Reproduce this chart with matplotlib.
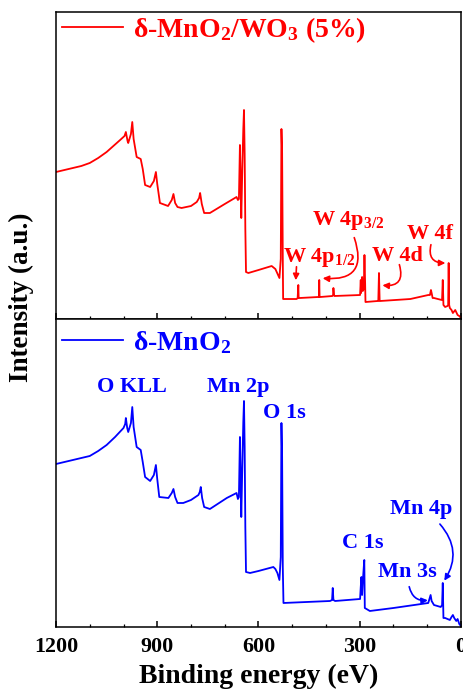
import matplotlib
matplotlib.use("Agg")
import matplotlib.pyplot as plt
from matplotlib.ticker import MultipleLocator

plt.rcParams["font.family"] = ["Liberation Serif", "DejaVu Serif"]
plt.rcParams["font.weight"] = "bold"
plt.rcParams["mathtext.fontset"] = "custom"
plt.rcParams["mathtext.rm"] = "Liberation Serif:bold"
plt.rcParams["mathtext.it"] = "Liberation Serif:bold"
plt.rcParams["mathtext.bf"] = "Liberation Serif:bold"
plt.rcParams["mathtext.default"] = "rm"

# survey spectrum of the WO3-loaded sample (binding energy in eV, intensity in a.u.)
be_mw = [1200, 1175, 1150, 1125, 1100, 1075, 1050, 1030, 1010, 997, 993, 988,
         986, 978, 974, 970, 961, 949, 943, 936, 921, 910, 904, 900, 892, 868,
         857, 852, 847, 840, 828, 800, 783, 776, 773, 768, 761, 744, 700, 665,
         661, 658, 655, 653, 651, 648, 645, 643, 641, 639, 637, 630, 600, 561,
         550, 546, 538, 534, 532, 530, 528, 527, 487, 484, 482, 481, 478, 423,
         421, 420, 419, 417, 381, 379, 378, 376, 375, 299, 297, 296, 293, 291,
         288, 286, 284, 283, 247, 245, 243, 241, 240, 150, 97, 92, 89, 87, 84,
         80, 57, 56, 54, 52, 47, 40, 38, 36.5, 35, 33, 28, 24, 17, 10, 5, 0]
int_mw = [147, 149, 151, 153, 156, 161, 167, 173, 179, 183, 187, 178,
          176, 185, 197, 180, 162, 160, 150, 134, 132, 138, 147, 135, 116, 113,
          119, 125, 116, 112, 111, 113, 117, 121, 126, 115, 106, 106, 115, 122,
          119, 120, 174, 140, 101, 150, 190, 209, 165, 90, 47, 46, 49, 53,
          50, 47, 41, 60, 190, 166, 60, 20, 20, 21, 34, 21, 21, 22,
          22, 39, 22, 22, 23, 24, 31, 24, 23, 24, 39, 26, 42, 28,
          30, 64, 35, 17, 18, 18, 46, 18, 18, 20, 24, 24, 29, 26, 21,
          21, 19, 20, 39, 14, 12, 13, 14, 56, 14, 11, 9, 6, 9, 4, 3, 1]

# survey spectrum of pristine delta-MnO2
be_m = [1200, 1175, 1150, 1125, 1100, 1075, 1050, 1025, 1000, 995, 993, 989,
        986, 978, 974, 970, 961, 949, 943, 936, 921, 910, 904, 900, 894, 867,
        857, 852, 847, 840, 823, 800, 778, 774, 771, 767, 761, 744, 694, 665,
        661, 658, 655, 653, 651, 648, 645, 643, 641, 639, 637, 625, 600, 556,
        550, 544, 538, 534, 532, 530, 528, 526, 388, 382, 380, 378, 373, 299,
        297, 295, 293, 291, 288, 286.5, 285, 270, 200, 97, 90, 87, 80, 60, 56,
        54, 52, 47, 40, 33, 28, 24, 20, 14, 10, 5, 0]
int_m = [163, 165, 167, 169, 171, 176, 182, 190, 199, 203, 209, 199,
         195, 204, 220, 200, 180, 177, 165, 150, 146, 152, 162, 148, 130, 129,
         134, 138, 130, 124, 124, 127, 132, 135, 140, 129, 120, 118, 129, 134,
         128, 130, 190, 150, 110, 160, 205, 226, 180, 100, 55, 54, 56, 60,
         58, 54, 47, 70, 204, 170, 60, 24, 26, 27, 39, 27, 26, 28,
         40, 50, 32, 45, 60, 67, 19, 16, 19, 24, 32, 26, 22, 20, 22,
         44, 9, 9, 8, 7, 10, 12, 9, 6, 8, 3, 1]

red = "#ff0000"
blue = "#0000ff"

fig = plt.figure(figsize=(4.64, 6.89), dpi=100)
ax_top = fig.add_axes([0.1207, 0.5370, 0.8728, 0.4456])
ax_bot = fig.add_axes([0.1207, 0.0900, 0.8728, 0.4470], sharex=ax_top)

ax_top.plot(be_mw, int_mw, color=red, lw=1.3, label=r"δ-MnO$_2$/WO$_3$ (5%)")
ax_bot.plot(be_m, int_m, color=blue, lw=1.3, label=r"δ-MnO$_2$")

ax_top.set_ylim(0, 307)
ax_bot.set_ylim(0, 308)
ax_bot.set_xlim(1200, 0)

for ax, ly in ((ax_top, 0.99), (ax_bot, 0.967)):
    for sp in ax.spines.values():
        sp.set_linewidth(1.1)
    ax.set_yticks([])
    ax.xaxis.set_major_locator(MultipleLocator(300))
    ax.xaxis.set_minor_locator(MultipleLocator(100))
    ax.tick_params(axis="x", which="major", direction="in", length=4.5,
                   width=1.1, top=False, labelsize=15.8, pad=7)
    ax.tick_params(axis="x", which="minor", direction="in", length=2.5,
                   width=0.9, top=False)
    ax.legend(loc="upper left", frameon=False, fontsize=20,
              handlelength=2.2, handletextpad=0.36, borderpad=0.0,
              borderaxespad=0.0, bbox_to_anchor=(0.015, ly),
              labelcolor="linecolor")
ax_top.tick_params(axis="x", labelbottom=False)

ax_bot.set_xlabel("Binding energy (eV)", fontsize=20, fontweight="bold",
                  labelpad=5)
fig.text(0.047, 0.569, "Intensity (a.u.)", rotation=90, fontsize=19.5,
         fontweight="bold", ha="center", va="center")

# peak labels, WO3-loaded sample
lab = dict(fontsize=16, fontweight="bold", ha="left", va="baseline")
ax_top.text(442, 94, r"W 4p$_{3/2}$", color=red, **lab)
ax_top.text(527, 57, r"W 4p$_{1/2}$", color=red, **lab)
ax_top.text(265, 58, "W 4d", color=red, **lab)
ax_top.text(161, 80, "W 4f", color=red, **lab)

arr = dict(arrowstyle="-|>", lw=1.2, mutation_scale=9)
ax_top.annotate("", xy=(490, 36), xytext=(487, 55),
                arrowprops=dict(color=red, **arr))
ax_top.annotate("", xy=(418, 41), xytext=(319, 84),
                arrowprops=dict(color=red, connectionstyle="arc3,rad=-0.8", **arr))
ax_top.annotate("", xy=(241, 34), xytext=(185, 57),
                arrowprops=dict(color=red, connectionstyle="arc3,rad=-0.8", **arr))
ax_top.annotate("", xy=(38, 56), xytext=(87, 77),
                arrowprops=dict(color=red, connectionstyle="arc3,rad=0.7", **arr))

# peak labels, pristine sample
ax_bot.text(1079, 235, "O KLL", color=blue, **lab)
ax_bot.text(753, 235, "Mn 2p", color=blue, **lab)
ax_bot.text(586, 209, "O 1s", color=blue, **lab)
ax_bot.text(353, 79, "C 1s", color=blue, **lab)
ax_bot.text(245, 50, "Mn 3s", color=blue, **lab)
ax_bot.text(210, 113, "Mn 4p", color=blue, **lab)

ax_bot.annotate("", xy=(90, 27), xytext=(155, 43),
                arrowprops=dict(color=blue, connectionstyle="arc3,rad=0.5", **arr))
ax_bot.annotate("", xy=(54, 44), xytext=(68, 105),
                arrowprops=dict(color=blue, connectionstyle="arc3,rad=-0.4", **arr))

fig.savefig("out.png", dpi=100)
